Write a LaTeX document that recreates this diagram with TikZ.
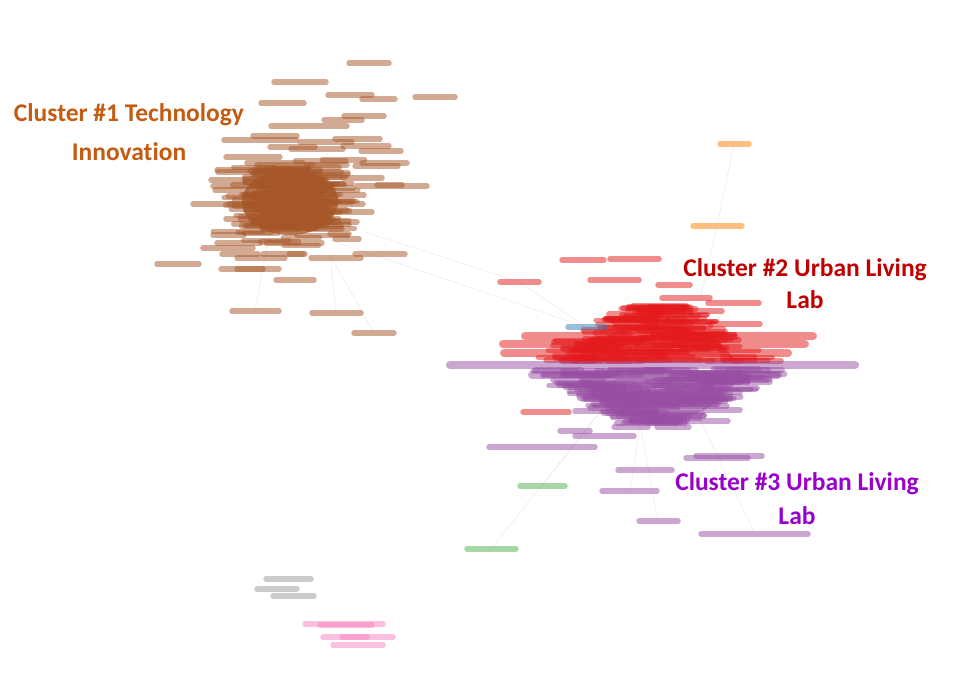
\documentclass[tikz,border=0pt]{standalone}
\usepackage{fontspec}
\setmainfont[Ligatures=CommonOff]{Carlito}
\usetikzlibrary{positioning}
\definecolor{setbrown}{HTML}{A65628}
\definecolor{setred}{HTML}{E41A1C}
\definecolor{setblue}{HTML}{377EB8}
\definecolor{setgreen}{HTML}{4DAF4A}
\definecolor{setpurple}{HTML}{984EA3}
\definecolor{setorange}{HTML}{FF7F00}
\definecolor{setpink}{HTML}{F781BF}
\definecolor{setgray}{HTML}{999999}
\definecolor{edgegray}{RGB}{243,233,233}
\definecolor{labone}{HTML}{C55A11}
\definecolor{labtwo}{HTML}{C00000}
\definecolor{labthree}{HTML}{9A00CC}
\tikzstyle{strip}=[line width=5.5pt,line cap=round,opacity=.5]
\tikzstyle{wide}=[line width=8pt,line cap=round,opacity=.5]
\tikzstyle{edge}=[draw=edgegray,line width=.6pt]
\tikzstyle{clab}=[font=\fontsize{25.5}{30}\selectfont\bfseries,inner sep=0pt]
\begin{document}
\begin{tikzpicture}[x=1pt,y=-1pt]
\useasboundingbox (0,0) rectangle (965,678);
\pgfmathsetseed{12}
%liens
\coordinate (ortop) at (734,144);
\coordinate (orbot) at (717,226);
\coordinate (redc) at (700,300);
\coordinate (grlow) at (491,549);
\coordinate (grup) at (542,486);
\coordinate (purc) at (600,412);
\coordinate (brc) at (330,240);
\coordinate (bluec) at (586,327);
\coordinate (brd) at (365,232);
\coordinate (rlone) at (520,282);
\coordinate (bra) at (255,311);
\coordinate (brb) at (336,313);
\coordinate (brbb) at (374,333);
\coordinate (brk) at (270,230);
\coordinate (brm) at (330,255);
\coordinate (pa) at (755,534);
\coordinate (pb) at (658,521);
\coordinate (pc) at (630,491);
\coordinate (pd) at (700,420);
\coordinate (pe) at (640,425);
\draw[edge] (ortop) -- (orbot) -- (redc);
\draw[edge] (grlow) -- (purc);
\draw[edge] (grup) -- (purc);
\draw[edge] (brc) -- (bluec);
\draw[edge] (brd) -- (rlone) -- (bluec);
\draw[edge] (bra) -- (brk);
\draw[edge] (brb) -- (brm);
\draw[edge] (brbb) -- (brm);
\draw[edge] (pa) -- (pd);
\draw[edge] (pb) -- (pe);
\draw[edge] (pc) -- (pe);
%cluster brun
\foreach \xa/\xb/\y in {349/389/63, 274/326/82, 328/372/95, 362/395/99,
  415/455/97, 261/304/103, 324/362/120, 344/384/116, 271/347/126,
  224/296/140, 253/297/136, 300/352/142, 335/380/139, 270/315/147,
  343/389/146, 291/343/149, 361/401/151, 226/280/157, 247/303/163,
  362/407/163, 355/398/166, 307/347/165, 217/260/170, 211/247/180,
  343/382/178, 357/427/186, 377/402/185, 215/247/190, 323/353/188,
  333/364/195, 193/250/204, 333/363/204, 323/372/212, 226/250/219,
  323/357/222, 213/244/235, 330/349/234, 335/359/239, 203/253/248,
  217/260/243, 222/258/254, 263/305/254, 311/361/258, 355/405/254,
  237/285/258, 157/199/264, 221/279/269, 237/263/269, 289/303/254,
  276/314/280, 232/279/311, 312/361/313, 354/394/333}
  \draw[strip,setbrown] (\xa,\y) -- (\xb,\y);
\fill[setbrown,opacity=.8] (290,202) ellipse [x radius=48,y radius=33];
\foreach \i in {1,...,190}{
  \pgfmathsetmacro{\bx}{290+56*(rand+rand)/2}
  \pgfmathsetmacro{\by}{202+46*(rand+rand)/2}
  \pgfmathsetmacro{\bl}{16+12*rnd}
  \draw[strip,setbrown] (\bx-\bl,\by) -- (\bx+\bl,\by);
}
%cluster rouge
\foreach \xa/\xb/\y in {500/539/282, 562/604/260, 610/659/259, 590/639/280,
  658/690/285, 662/710/298, 708/759/303, 640/722/311, 710/760/324,
  523/569/412}
  \draw[strip,setred] (\xa,\y) -- (\xb,\y);
\foreach \xa/\xb/\y in {525/813/336, 503/805/344, 504/788/353}
  \draw[wide,setred] (\xa,\y) -- (\xb,\y);
\fill[setred,opacity=.6] (575,362) .. controls (595,318) and (710,310) .. (735,362) -- cycle;
\foreach \i in {1,...,130}{
  \pgfmathsetmacro{\ry}{rnd^1.4}
  \pgfmathsetmacro{\by}{361-55*\ry}
  \pgfmathsetmacro{\bx}{655+(92*(1-\ry)+14)*rand}
  \pgfmathsetmacro{\bl}{16+14*rnd}
  \draw[strip,setred] (\bx-\bl,\by) -- (\bx+\bl,\by);
}
\draw[strip,setblue] (568,327) -- (605,327);
%cluster violet
\fill[setpurple,opacity=.6] (575,370) -- (742,370)
  .. controls (725,408) and (690,420) .. (655,420)
  .. controls (620,420) and (588,402) .. (575,370) -- cycle;
\foreach \i in {1,...,140}{
  \pgfmathsetmacro{\ry}{rnd^1.3}
  \pgfmathsetmacro{\by}{369+56*\ry}
  \pgfmathsetmacro{\bx}{655+(95*(1-\ry)+14)*rand}
  \pgfmathsetmacro{\bl}{16+14*rnd}
  \draw[strip,setpurple] (\bx-\bl,\by) -- (\bx+\bl,\by);
}
\foreach \xa/\xb/\y in {450/855/365, 532/778/375}
  \draw[wide,setpurple] (\xa,\y) -- (\xb,\y);
\foreach \xa/\xb/\y in {577/609/389, 575/657/411,
  560/590/431, 575/634/436, 489/595/447, 626/687/421, 614/648/427,
  657/689/427, 687/728/421, 663/718/404, 686/748/458, 696/762/456,
  618/672/470, 602/657/491, 639/678/521, 701/808/534, 700/770/382,
  690/740/392, 680/730/398, 705/740/410}
  \draw[strip,setpurple] (\xa,\y) -- (\xb,\y);
%petits groupes
\draw[strip,setorange] (720,144) -- (749,144);
\draw[strip,setorange] (693,226) -- (742,226);
\draw[strip,setgreen] (520,486) -- (565,486);
\draw[strip,setgreen] (467,549) -- (516,549);
\foreach \xa/\xb/\y in {266/311/579, 257/297/589, 273/314/596}
  \draw[strip,setgray] (\xa,\y) -- (\xb,\y);
\foreach \xa/\xb/\y in {305/383/624, 320/372/625, 323/393/637, 342/367/637, 333/383/645}
  \draw[strip,setpink] (\xa,\y) -- (\xb,\y);
%titres
\node[clab,text=labone] (c1a) at (129,115) {Cluster \#1 Technology};
\node[clab,text=labone] (c1b) at (129,152) {Innovation};
\node[clab,text=labtwo] (c2a) at (805,270) {Cluster \#2 Urban Living};
\node[clab,text=labtwo] (c2b) at (805,300) {Lab};
\node[clab,text=labthree] (c3a) at (797,484) {Cluster \#3 Urban Living};
\node[clab,text=labthree] (c3b) at (797,516) {Lab};
\end{tikzpicture}
\end{document}
